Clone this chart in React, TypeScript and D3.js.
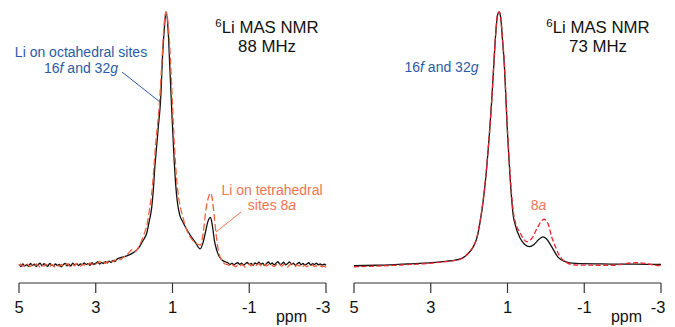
import React from 'react';
import * as d3 from 'd3';

type Pt = [number, number];

// ---- axis ----
const ppmTicks = [5, 3, 1, -1, -3];
const tickLabels = ['5', '3', '1', '-1', '-3'];

// ---- left panel (88 MHz): black solid trace ----
const leftBlackNoiseHigh: Pt[] = [
  [5.0, -0.2], [4.95, -1.0], [4.9, 0.0], [4.85, -0.8], [4.8, -0.3], [4.75, -0.9], [4.7, 0.2], [4.65, -0.6],
  [4.6, -0.1], [4.55, -1.0], [4.5, -0.2], [4.45, 0.3], [4.4, -0.7], [4.35, 0.1], [4.3, -0.5], [4.25, -0.9],
  [4.2, 0.2], [4.15, -0.4], [4.1, -0.8], [4.05, 0.0], [4.0, -0.6], [3.95, -0.2], [3.9, -1.1], [3.85, -0.3],
  [3.8, 0.2], [3.75, -0.7], [3.7, -0.1], [3.65, -0.8], [3.6, 0.3], [3.55, -0.4], [3.5, 0.1], [3.45, -0.6],
  [3.4, 0.0], [3.35, -0.3], [3.3, 0.4], [3.25, -0.2], [3.2, 0.1], [3.15, -0.5], [3.1, 0.5], [3.05, -0.1],
  [3.0, 0.3], [2.95, 0.8], [2.9, 0.0], [2.85, 0.6], [2.8, 0.2], [2.75, 0.9], [2.7, 0.4], [2.65, 1.1],
  [2.6, 0.6], [2.55, 1.4], [2.5, 1.0], [2.45, 1.9],
];
const leftBlackPeaks: Pt[] = [
  [2.37, 2.4], [2.19, 3.2], [2.03, 4.4], [1.93, 5.6], [1.85, 7.1], [1.76, 9.5], [1.67, 12.3], [1.61, 16.7],
  [1.54, 22.6], [1.5, 29.4], [1.46, 38.5], [1.41, 47.2], [1.37, 54.4], [1.31, 65.1], [1.26, 82.1], [1.21, 94.0],
  [1.17, 100], [1.11, 91.7], [1.07, 78.2], [1.02, 61.1], [0.97, 45.2], [0.92, 32.1], [0.87, 24.2], [0.81, 19.4],
  [0.73, 16.7], [0.65, 14.3], [0.54, 11.5], [0.41, 8.7], [0.28, 6.0], [0.2, 8.7], [0.14, 12.7], [0.08, 16.7],
  [0.01, 18.5], [-0.04, 15.1], [-0.09, 9.5], [-0.15, 5.6], [-0.21, 3.2], [-0.29, 1.6], [-0.39, 0.8],
];
const leftBlackNoiseLow: Pt[] = [
  [-0.45, 0.4], [-0.5, -0.2], [-0.55, 0.3], [-0.6, -0.3], [-0.65, 0.2], [-0.7, 0.5], [-0.75, -0.1], [-0.8, 0.3],
  [-0.85, -0.4], [-0.9, 0.1], [-0.95, 0.6], [-1.0, -0.2], [-1.05, 0.2], [-1.1, -0.5], [-1.15, 0.4], [-1.2, 0.0],
  [-1.25, 0.7], [-1.3, -0.1], [-1.35, 0.3], [-1.4, -0.6], [-1.45, 0.2], [-1.5, 0.8], [-1.55, -0.1], [-1.6, 0.4],
  [-1.65, -0.4], [-1.7, 0.3], [-1.75, 0.9], [-1.8, -0.2], [-1.85, 0.1], [-1.9, 0.7], [-1.95, -0.3], [-2.0, 0.2],
  [-2.05, 0.8], [-2.1, -0.2], [-2.15, 0.3], [-2.2, -0.5], [-2.25, 0.1], [-2.3, 0.6], [-2.35, -0.3], [-2.4, 0.2],
  [-2.45, -0.4], [-2.5, 0.0], [-2.55, 0.5], [-2.6, -0.4], [-2.65, 0.1], [-2.7, -0.2], [-2.75, 0.3], [-2.8, -0.3],
  [-2.85, 0.0], [-2.9, -0.4], [-2.95, -0.1], [-3.0, -0.5],
];

// ---- left panel (88 MHz): red dashed trace ----
const leftRedNoiseHigh: Pt[] = [
  [5.0, -0.6], [4.95, -0.1], [4.9, -0.9], [4.85, -0.4], [4.8, 0.1], [4.75, -0.5], [4.7, -1.0], [4.65, -0.3],
  [4.6, -0.8], [4.55, 0.0], [4.5, -0.6], [4.45, -1.2], [4.4, -0.4], [4.35, -0.9], [4.3, -0.1], [4.25, -0.5],
  [4.2, -1.1], [4.15, -0.2], [4.1, -0.6], [4.05, -1.3], [4.0, -0.5], [3.95, -0.9], [3.9, -0.2], [3.85, -1.0],
  [3.8, -0.4], [3.75, 0.1], [3.7, -0.6], [3.65, -1.2], [3.6, -0.3], [3.55, -0.7], [3.5, 0.2], [3.45, -0.4],
  [3.4, -0.9], [3.35, -0.1], [3.3, -0.5], [3.25, 0.3], [3.2, -0.2], [3.15, 0.4], [3.1, -0.3], [3.05, 0.5],
  [3.0, 0.0], [2.95, 0.4], [2.9, 1.0], [2.85, 0.3], [2.8, 0.8], [2.75, 0.2], [2.7, 1.0], [2.65, 0.6],
  [2.6, 1.3], [2.55, 0.9], [2.5, 1.6], [2.45, 1.3], [2.4, 2.0], [2.35, 1.7], [2.3, 2.5], [2.25, 3.0],
];
const leftRedPeaks: Pt[] = [
  [2.15, 4.2], [2.06, 5.6], [1.98, 4.8], [1.9, 6.3], [1.82, 8.7], [1.74, 11.9], [1.66, 15.9], [1.59, 22.6],
  [1.52, 31.3], [1.48, 39.3], [1.43, 49.2], [1.39, 55.2], [1.33, 66.3], [1.27, 82.1], [1.22, 94.8], [1.17, 100],
  [1.1, 92.9], [1.05, 80.2], [1.0, 63.1], [0.95, 47.2], [0.89, 33.3], [0.83, 25.4], [0.75, 19.8], [0.63, 13.5],
  [0.5, 9.9], [0.39, 8.3], [0.27, 7.5], [0.2, 12.3], [0.13, 21.4], [0.06, 26.6], [0.0, 28.2], [-0.04, 25.4],
  [-0.08, 20.2], [-0.13, 12.7], [-0.19, 5.6], [-0.28, 1.6], [-0.37, 0.0],
];
const leftRedNoiseLow: Pt[] = [
  [-0.45, -0.3], [-0.5, -0.8], [-0.55, -0.2], [-0.6, -0.7], [-0.65, -1.1], [-0.7, -0.4], [-0.75, -0.9], [-0.8, -0.2],
  [-0.85, -0.6], [-0.9, -1.2], [-0.95, -0.5], [-1.0, -0.1], [-1.05, -0.7], [-1.1, -0.3], [-1.15, -1.0], [-1.2, -0.4],
  [-1.25, 0.1], [-1.3, -0.6], [-1.35, -1.1], [-1.4, -0.2], [-1.45, -0.8], [-1.5, -0.3], [-1.55, 0.2], [-1.6, -0.5],
  [-1.65, -1.0], [-1.7, -0.4], [-1.75, 0.3], [-1.8, -0.3], [-1.85, -0.9], [-1.9, -0.2], [-1.95, -0.7], [-2.0, -1.2],
  [-2.05, -0.4], [-2.1, 0.1], [-2.15, -0.6], [-2.2, -1.0], [-2.25, -0.3], [-2.3, -0.8], [-2.35, -0.2], [-2.4, -0.9],
  [-2.45, -0.5], [-2.5, -1.1], [-2.55, -0.6], [-2.6, -0.9], [-2.65, -0.4], [-2.7, -1.0], [-2.75, -0.7], [-2.8, -1.2],
  [-2.85, -0.8], [-2.9, -1.1], [-2.95, -0.9], [-3.0, -1.3],
];

// ---- right panel (73 MHz) ----
const rightBlack: Pt[] = [
  [5.0, 0.1], [4.4, 0.3], [3.76, 0.7], [3.3, 1.0], [2.98, 1.3], [2.7, 1.7], [2.45, 2.1], [2.19, 3.0],
  [2.02, 5.0], [1.89, 7.6], [1.8, 10.9], [1.72, 16.8], [1.63, 26.0], [1.54, 39.1], [1.47, 52.2], [1.41, 65.4],
  [1.35, 81.1], [1.3, 92.9], [1.26, 98.8], [1.22, 100], [1.18, 98.1], [1.13, 89.0], [1.08, 78.5], [1.04, 65.4],
  [1.0, 52.2], [0.95, 39.1], [0.89, 26.0], [0.85, 19.8], [0.8, 16.3], [0.67, 10.9], [0.55, 8.5], [0.43, 7.6],
  [0.3, 8.6], [0.18, 10.5], [0.08, 11.5], [-0.02, 10.6], [-0.15, 7.6], [-0.32, 3.4], [-0.5, 1.7], [-0.76, 1.0],
  [-1.46, 0.8], [-2.32, 0.7], [-3.0, 0.6],
];
const rightRed: Pt[] = [
  [5.0, -0.3], [4.4, 0.0], [3.76, 0.4], [3.3, 0.8], [2.98, 1.1], [2.7, 1.6], [2.45, 2.0], [2.19, 3.0],
  [2.02, 5.1], [1.89, 7.8], [1.8, 11.2], [1.72, 17.2], [1.63, 26.5], [1.54, 39.5], [1.47, 52.5], [1.41, 65.6],
  [1.35, 81.3], [1.3, 93.0], [1.26, 98.9], [1.22, 100], [1.18, 98.3], [1.13, 89.5], [1.08, 79.2], [1.04, 66.2],
  [1.0, 53.2], [0.95, 40.3], [0.89, 27.5], [0.85, 21.5], [0.8, 17.5], [0.67, 13.0], [0.58, 10.6], [0.5, 9.6],
  [0.36, 11.0], [0.21, 15.4], [0.05, 18.4], [-0.06, 16.5], [-0.15, 11.5], [-0.24, 7.9], [-0.32, 5.0], [-0.5, 1.7],
  [-0.76, 0.4], [-1.41, 0.3], [-1.8, 0.3], [-2.05, 0.9], [-2.35, 1.3], [-2.65, 0.9], [-2.85, 0.3], [-3.0, 0.2],
];

const leftBlack = [...leftBlackNoiseHigh, ...leftBlackPeaks, ...leftBlackNoiseLow];
const leftRed = [...leftRedNoiseHigh, ...leftRedPeaks, ...leftRedNoiseLow];

const FONT = "'Liberation Sans', Arial, Helvetica, sans-serif";
const BLUE = '#2c5aa6';
const ORANGE = '#f07452';

type PanelProps = {
  x0: number;
  x1: number;
  yZero: number;
  black: Pt[];
  red: Pt[];
  redColor: string;
  dash: string;
  freq: string;
  titleX: number;
  ppmX: number;
};

function Panel({ x0, x1, yZero, black, red, redColor, dash, freq, titleX, ppmX }: PanelProps) {
  const x = d3.scaleLinear().domain([5, -3]).range([x0, x1]);
  const y = d3.scaleLinear().domain([0, 100]).range([yZero, 12]);
  const line = d3
    .line<Pt>()
    .x((d) => x(d[0]))
    .y((d) => y(d[1]))
    .curve(d3.curveMonotoneX);
  const axisY = 283;
  return (
    <g>
      <path d={line(black) || ''} fill="none" stroke="#111" strokeWidth={1.3} strokeLinejoin="round" />
      <path d={line(red) || ''} fill="none" stroke={redColor} strokeWidth={1.3} strokeDasharray={dash} />
      <line x1={x(5)} x2={x(-3)} y1={axisY} y2={axisY} stroke="#333" strokeWidth={1.2} />
      {ppmTicks.map((t, i) => (
        <g key={t}>
          <line x1={x(t)} x2={x(t)} y1={axisY} y2={axisY + 10} stroke="#333" strokeWidth={1.2} />
          <text
            x={x(t)}
            dx={i === ppmTicks.length - 1 ? -3 : 0}
            y={313}
            textAnchor="middle"
            fontSize={16.5}
            fontFamily={FONT}
            fill="#111"
          >
            {tickLabels[i]}
          </text>
        </g>
      ))}
      <text x={ppmX} y={322} textAnchor="middle" fontSize={16} fontFamily={FONT} fill="#111">
        ppm
      </text>
      <text x={titleX} y={33} textAnchor="middle" fontSize={16.8} fontFamily={FONT} fill="#111">
        <tspan fontSize={11.5} dy={-6}>6</tspan>
        <tspan dy={6}>Li MAS NMR</tspan>
      </text>
      <text x={titleX} y={52} textAnchor="middle" fontSize={16.8} fontFamily={FONT} fill="#111">
        {freq}
      </text>
    </g>
  );
}

export default function App() {
  return (
    <svg
      width={675}
      height={327}
      viewBox="0 0 675 327"
      style={{ position: 'absolute', left: 0, top: 0, background: '#fff' }}
    >
      <rect width={675} height={327} fill="#fff" />
      <Panel x0={19} x1={326} yZero={264} black={leftBlack} red={leftRed} redColor="#f0603e" dash="7,3" freq="88 MHz" titleX={267} ppmX={291.5} />
      <Panel x0={354} x1={661} yZero={266} black={rightBlack} red={rightRed} redColor="#e8262d" dash="5,2.5" freq="73 MHz" titleX={598} ppmX={626.5} />

      {/* left annotations */}
      <text x={81} y={57} textAnchor="middle" fontSize={14} fontFamily={FONT} fill={BLUE}>
        Li on octahedral sites
      </text>
      <text x={81} y={73} textAnchor="middle" fontSize={14} fontFamily={FONT} fill={BLUE}>
        16<tspan fontStyle="italic">f</tspan> and 32<tspan fontStyle="italic">g</tspan>
      </text>
      <line x1={122} y1={72} x2={160} y2={102} stroke={BLUE} strokeWidth={1} />

      <text x={272} y={195} textAnchor="middle" fontSize={14} fontFamily={FONT} fill={ORANGE}>
        Li on tetrahedral
      </text>
      <text x={272} y={210} textAnchor="middle" fontSize={14} fontFamily={FONT} fill={ORANGE}>
        sites 8<tspan fontStyle="italic">a</tspan>
      </text>
      <line x1={241} y1={212} x2={216} y2={232} stroke={ORANGE} strokeWidth={1} />

      {/* right annotations */}
      <text x={441.5} y={72} textAnchor="middle" fontSize={14} fontFamily={FONT} fill={BLUE}>
        16<tspan fontStyle="italic">f</tspan> and 32<tspan fontStyle="italic">g</tspan>
      </text>
      <text x={538.5} y={210} textAnchor="middle" fontSize={14} fontFamily={FONT} fill={ORANGE}>
        8<tspan fontStyle="italic">a</tspan>
      </text>
    </svg>
  );
}
